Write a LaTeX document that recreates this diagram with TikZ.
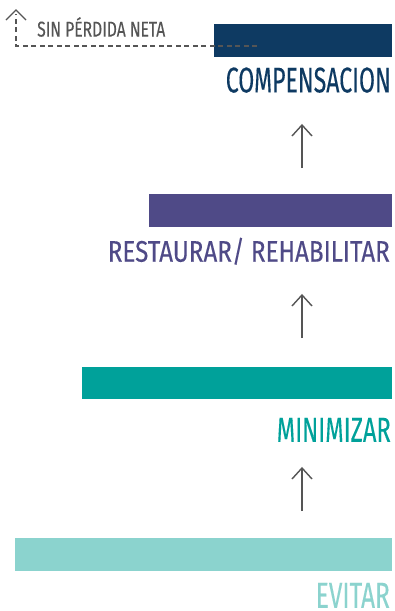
\documentclass[tikz,border=0pt]{standalone}
\usepackage{fontspec}
\setmainfont{Fira Sans}
\usetikzlibrary{arrows.meta}
\definecolor{cComp}{HTML}{0E3A62}
\definecolor{cRest}{HTML}{4F4A87}
\definecolor{cMini}{HTML}{00A19A}
\definecolor{cEvit}{HTML}{8BD3CE}
\definecolor{cGray}{HTML}{555555}
\tikzset{
  bar/.style={fill=#1, draw=none},
  lbl/.style={inner sep=0pt, anchor=south east, font=\addfontfeature{FakeBold=0.3}},
  shaft/.style={draw=cGray, line width=1.4pt},
  chev/.style={draw=cGray, line width=1.4pt, line join=miter},
  netline/.style={draw=cGray, line width=1.3pt, dash pattern=on 5pt off 3.5pt}
}
\begin{document}
\begin{tikzpicture}[x=1pt,y=-1pt]
\useasboundingbox (0,0) rectangle (394,611);
% bars
\fill[bar=cComp] (214,24) rectangle (392,57);
\fill[bar=cRest] (149,194) rectangle (392,227);
\fill[bar=cMini] (82,367) rectangle (392,399);
\fill[bar=cEvit] (15,538) rectangle (392,571);
% labels
\node[lbl, text=cComp] (comp) at (391,93) {\resizebox{165pt}{25pt}{COMPENSACION}};
\node[lbl, text=cRest] (rest) at (390,265) {\resizebox{282pt}{24pt}{RESTAURAR/ REHABILITAR}};
\node[lbl, text=cMini] (mini) at (391,442) {\resizebox{114pt}{24pt}{MINIMIZAR}};
\node[lbl, text=cEvit] (evit) at (390,608) {\resizebox{74pt}{25pt}{EVITAR}};
\node[inner sep=0pt, anchor=south west, text=cGray, font=\addfontfeature{FakeBold=0.3}] (spn) at (37,37) {\resizebox{128pt}{15pt}{SIN P\smash{É}RDIDA NETA}};
% arrows between levels
\coordinate (a1s) at (302,168); \coordinate (a1e) at (302,125);
\coordinate (a2s) at (302,338); \coordinate (a2e) at (302,295);
\coordinate (a3s) at (302,511); \coordinate (a3e) at (302,468);
\foreach \s/\e in {a1s/a1e, a2s/a2e, a3s/a3e}{
  \draw[shaft] (\s) -- (\e);
  \draw[chev] (\e) ++(-10,11) -- (\e) -- ++(10,11);
}
% dashed no-net-loss line
\coordinate (dEnd) at (257,46);
\coordinate (dCorner) at (16,46);
\coordinate (dTip) at (16,10);
\draw[netline] (dEnd) -- (dCorner) -- ([yshift=-4pt]dTip);
\draw[chev] (dTip) ++(-10,10) -- (dTip) -- ++(10,10);
\end{tikzpicture}
\end{document}
